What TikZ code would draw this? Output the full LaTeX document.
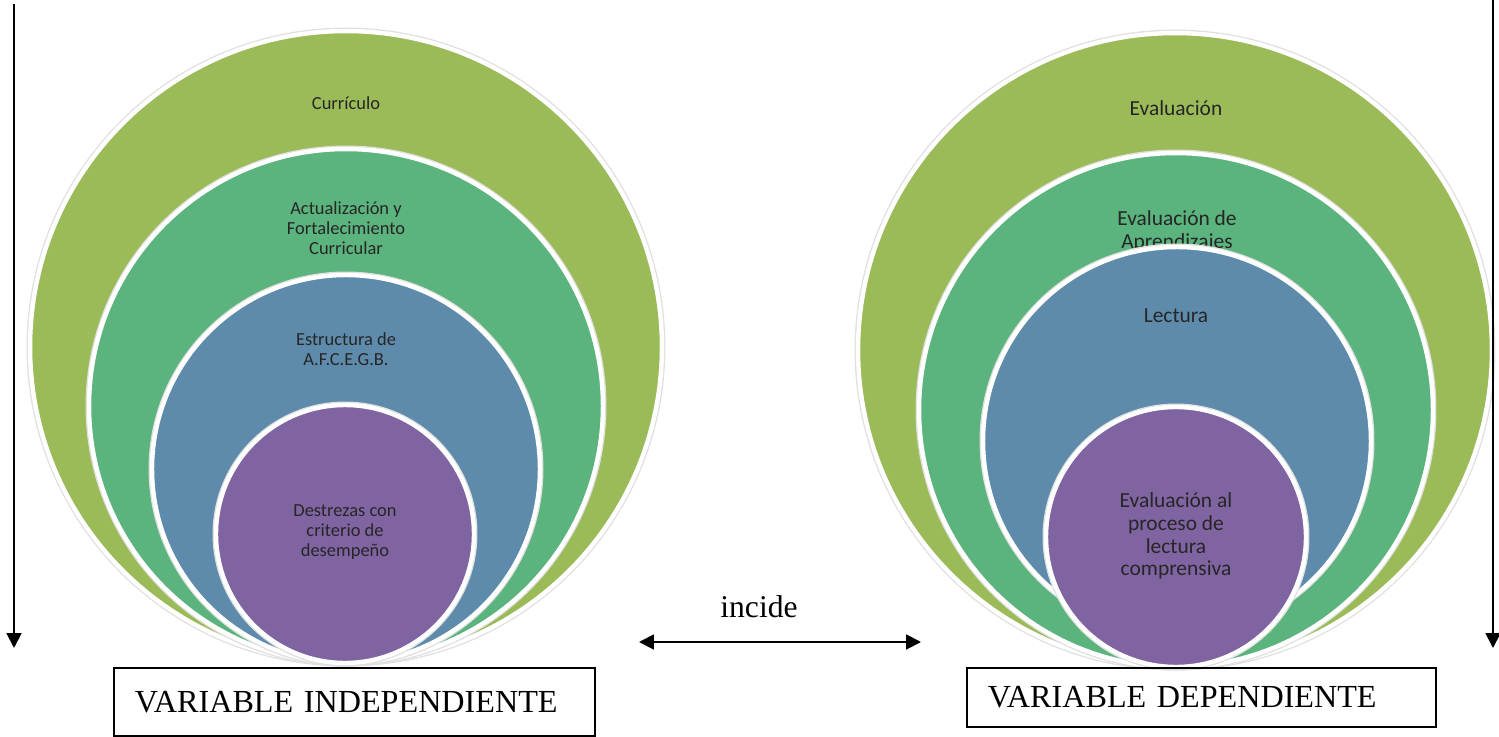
\documentclass[tikz,border=0pt]{standalone}
\usepackage{fontspec}
\setmainfont{Liberation Serif}
\newfontfamily\calibri{Carlito}
\usetikzlibrary{arrows.meta}

\definecolor{verdeOliva}{HTML}{9BBB59}
\definecolor{verdeMar}{HTML}{5BB37D}
\definecolor{azulGris}{HTML}{5E8BAC}
\definecolor{morado}{HTML}{8064A2}

\tikzset{
  ring/.style={circle, inner sep=0pt, draw=white, line width=2.5pt,
    preaction={draw=black!12, line width=4pt}},
  lbl/.style={font=\calibri\fontsize{10.5}{11.4}\selectfont, align=center, text=black!85},
  rlbl/.style={font=\calibri\fontsize{12.2}{13}\selectfont, align=center, text=black!85},
  varbox/.style={draw, line width=1pt, anchor=north west, align=left,
    font=\fontsize{18.3}{20}\selectfont, inner xsep=0.42cm}
}

\begin{document}
\begin{tikzpicture}[x=0.02cm, y=-0.02cm, >={Triangle[length=8.5pt, width=8.5pt]}]
  \useasboundingbox (0,0) rectangle (1499,737);

  % variable independiente
  \node[ring, fill=verdeOliva, minimum size=12.64cm] (curr) at (346,347) {};
  \node[lbl] (tcurr) at (346,103) {Currículo};
  \node[ring, fill=verdeMar, minimum size=10.28cm] (actu) at (346,406) {};
  \node[lbl] (tactu) at (346,228) {Actualización y\\Fortalecimiento\\Curricular};
  \node[ring, fill=azulGris, minimum size=7.76cm] (estr) at (346,469) {};
  \node[lbl] (testr) at (346,349) {Estructura de\\A.F.C.E.G.B.};
  \node[ring, fill=morado, minimum size=5.16cm] (dest) at (345,534) {};
  \node[lbl] (tdest) at (345,532) {Destrezas con\\criterio de\\desempeño};

  % variable dependiente
  \node[ring, fill=verdeOliva, minimum size=12.68cm] (eval) at (1175,350) {};
  \node[rlbl] (teval) at (1176,108) {Evaluación};
  \node[ring, fill=verdeMar, minimum size=10.28cm] (apre) at (1176,410) {};
  \node[rlbl] (tapre) at (1177,231) {Evaluación de\\Aprendizajes};
  \node[ring, fill=azulGris, minimum size=7.76cm] (lect) at (1177,441) {};
  \node[rlbl] (tlect) at (1176,316) {Lectura};
  \node[ring, fill=morado, minimum size=5.2cm] (proc) at (1176,537) {};
  \node[rlbl] (tproc) at (1176,536) {Evaluación al\\proceso de\\lectura\\comprensiva};

  % cajas
  \node[varbox, text width=8.78cm, minimum height=1.36cm] (vi) at (113,667) {VARIABLE INDEPENDIENTE};
  \node[varbox, text width=8.54cm, minimum height=1.18cm] (vd) at (966,667) {VARIABLE DEPENDIENTE};

  % flechas
  \coordinate (izqA) at (14,4);
  \coordinate (izqB) at (14,648);
  \coordinate (derA) at (1493,0);
  \coordinate (derB) at (1493,648);
  \coordinate (medA) at (639,642);
  \coordinate (medB) at (921,642);
  \draw[->, line width=1.1pt] (izqA) -- (izqB);
  \draw[->, line width=1.1pt] (derA) -- (derB);
  \draw[<->, line width=1.1pt] (medA) -- (medB);
  \node[font=\fontsize{18}{20}\selectfont] (inc) at (759,607) {incide};
\end{tikzpicture}
\end{document}
